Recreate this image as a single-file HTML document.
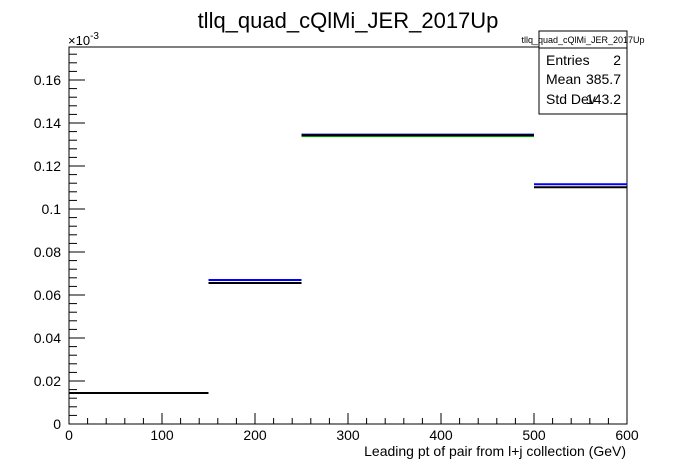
<!DOCTYPE html>
<html><head><meta charset="utf-8"><style>
body{margin:0;background:#fff;}
svg{display:block;font-family:"Liberation Sans",sans-serif;}
</style></head><body>
<svg id="c" width="696" height="472">
<rect width="696" height="472" fill="#fff"/>
<text x="348" y="28" font-size="22" text-anchor="middle">tllq_quad_cQlMi_JER_2017Up</text>
<rect x="69" y="47" width="558" height="377" fill="none" stroke="#000" stroke-width="1"/>
<g id="axes"></g>
<g id="bars"></g>
<text x="68" y="45" font-size="13">×10<tspan dy="-6" font-size="10">-3</tspan></text>
<text x="626" y="456" font-size="14" text-anchor="end">Leading pt of pair from l+j collection (GeV)</text>
<g>
<rect x="539" y="31" width="88" height="83" fill="#fff" stroke="#000"/>
<text x="583" y="43" font-size="9" text-anchor="middle">tllq_quad_cQlMi_JER_2017Up</text>
<line x1="539" y1="48" x2="627" y2="48" stroke="#000"/>
<text x="546" y="65" font-size="14">Entries</text><text x="621" y="65" font-size="14" text-anchor="end">2</text>
<text x="546" y="84" font-size="14">Mean</text><text x="621" y="84" font-size="14" text-anchor="end">385.7</text>
<text x="546" y="104" font-size="14">Std Dev</text><text x="621" y="104" font-size="14" text-anchor="end">143.2</text>
</g>
</svg>
<script>
const binEdges=[0,150,250,500,600];
const blackValues=[0.0144,0.0656,0.1343,0.1101];
const blueValues=[null,0.0670,0.1346,0.1115];
const greenValues=[null,null,0.1339,null];
const xTicks=[0,100,200,300,400,500,600];
const yTicks=[0,0.02,0.04,0.06,0.08,0.1,0.12,0.14,0.16];
const yTickLabels=["0","0.02","0.04","0.06","0.08","0.1","0.12","0.14","0.16"];
const X0=69,X1=627,Y0=424,Y1=47,XMAX=600,YMAX=0.17535;
const sx=v=>X0+(X1-X0)*v/XMAX;
const sy=v=>Y0-(Y0-Y1)*v/YMAX;
const NS="http://www.w3.org/2000/svg";
const ax=document.getElementById('axes'),bars=document.getElementById('bars');
function mk(tag,attrs,parent){const e=document.createElementNS(NS,tag);for(const k in attrs)e.setAttribute(k,attrs[k]);parent.appendChild(e);return e;}
for(let v=0;v<=600;v+=20){const major=v%100===0;const l=mk('line',{x1:sx(v),x2:sx(v),y1:Y0,y2:Y0-(major?11:6),stroke:'#000'},ax);

}
xTicks.forEach(v=>{const t=mk('text',{x:sx(v),y:440,'font-size':14,'text-anchor':'middle'},ax);t.textContent=String(v);

});
for(let i=0;i<=43;i++){const v=i*0.004;const major=i%5===0;const l=mk('line',{x1:X0,x2:X0+(major?16:8),y1:sy(v),y2:sy(v),stroke:'#000'},ax);

}
yTicks.forEach((v,i)=>{const t=mk('text',{x:61,y:sy(v)+5,'font-size':14,'text-anchor':'end'},ax);t.textContent=yTickLabels[i];

});
function draw(vals,color,name){vals.forEach((v,i)=>{if(v==null)return;const l=mk('line',{x1:sx(binEdges[i]),x2:sx(binEdges[i+1]),y1:sy(v),y2:sy(v),stroke:color,'stroke-width':2},bars);

});}
draw(greenValues,'#00c000','green-bin');
draw(blueValues,'#0000ff','blue-bin');
draw(blackValues,'#000','black-bin');
</script>
</body></html>
